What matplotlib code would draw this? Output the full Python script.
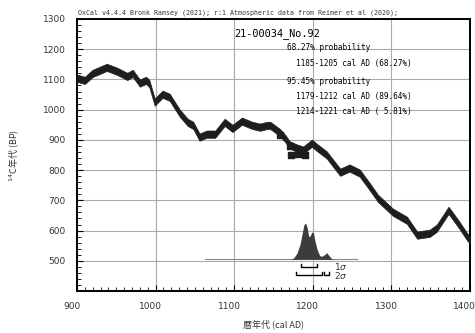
import matplotlib
matplotlib.use('Agg')
import matplotlib.pyplot as plt
import matplotlib.transforms as mtransforms
from matplotlib.ticker import MultipleLocator

# calibration curve (cal AD, 14C BP)
curve_year = [900, 910, 920, 938, 951, 964, 971, 980, 988, 992, 999, 1009, 1018,
              1031, 1041, 1048, 1056, 1065, 1076, 1088, 1098, 1110, 1123, 1133,
              1142, 1146, 1158, 1165, 1171, 1180, 1188, 1199, 1205, 1218, 1235,
              1247, 1260, 1273, 1283, 1302, 1320, 1333, 1349, 1358, 1373, 1387,
              1397, 1400]
curve_bp = [1104, 1097, 1120, 1140, 1127, 1110, 1120, 1088, 1097, 1087, 1025, 1051,
            1041, 988, 958, 948, 909, 919, 919, 958, 938, 962, 948, 942, 948, 948,
            925, 905, 883, 873, 866, 889, 876, 850, 793, 807, 790, 744, 707, 661,
            634, 585, 591, 608, 667, 617, 578, 570]
curve_err = 12

# measured date blobs on the curve
mark_year = [1158, 1171, 1182, 1172, 1181, 1190]
mark_bp = [915, 880, 859, 850, 852, 850]

# calibrated probability distribution
prob_base = 505
prob_year = [1172, 1176, 1180, 1184, 1187, 1189, 1191, 1193, 1195, 1197, 1199, 1201,
             1203, 1206, 1209, 1212, 1215, 1218, 1220, 1223, 1226]
prob_height = [0, 5, 20, 50, 90, 115, 120, 105, 75, 78, 90, 88, 60, 30, 12, 10, 15,
               22, 15, 5, 0]
base_range = [1063, 1256]

# sigma ranges
sig1_ranges = [(1185, 1205)]
sig2_ranges = [(1179, 1212), (1214, 1221)]

title = '21-00034_No.92'
info_lines = ['68.27% probability',
              '1185-1205 cal AD (68.27%)',
              '95.45% probability',
              '1179-1212 cal AD (89.64%)',
              '1214-1221 cal AD ( 5.81%)']
header = 'OxCal v4.4.4 Bronk Ramsey (2021); r:1 Atmospheric data from Reimer et al (2020);'

fig = plt.figure(figsize=(4.75, 3.33), dpi=100)
ax = fig.add_axes([0.162, 0.126, 0.827, 0.817])
ax.set_xlim(900, 1400)
ax.set_ylim(400, 1300)

ax.grid(True, which='major', color='#aaaaaa', lw=0.8)
ax.set_axisbelow(True)

lo = [b - curve_err for b in curve_bp]
hi = [b + curve_err for b in curve_bp]
ax.fill_between(curve_year, lo, hi, color='#1e1e1e', lw=0.5, zorder=3)
ax.scatter(mark_year, mark_bp, marker='s', s=20, color='#1e1e1e', zorder=4)

# distribution
ax.plot(base_range, [prob_base, prob_base], color='#888888', lw=0.8, zorder=3)
ax.fill_between(prob_year, prob_base, [prob_base + h for h in prob_height],
                color='#3c3c3c', lw=0, zorder=4)

# sigma brackets
def bracket(ranges, y, tick):
    for a, b in ranges:
        ax.plot([a, a, b, b], [y + tick, y, y, y + tick], color='black', lw=1.0, zorder=4)

bracket(sig1_ranges, 478, 12)
bracket(sig2_ranges, 452, 12)
ax.text(1227, 482, r'1$\sigma$', fontsize=6.5, va='center', color='#333333')
ax.text(1227, 450, r'2$\sigma$', fontsize=6.5, va='center', color='#333333')

# texts
ax.text(1100, 1253, title, family='DejaVu Sans Mono', fontsize=7.4, va='center')
ys = [1207, 1154, 1094, 1044, 995]
xs = [1167, 1179, 1167, 1179, 1179]
for x, y, s in zip(xs, ys, info_lines):
    ax.text(x, y, s, family='DejaVu Sans Mono', fontsize=5.6, va='center')
fig.text(78 / 475, 1 - 13 / 333, header, family='DejaVu Sans Mono', fontsize=4.8,
         va='center', color='#333333')

# axes styling
for sp in ax.spines.values():
    sp.set_linewidth(1.4)
ax.xaxis.set_major_locator(MultipleLocator(100))
ax.xaxis.set_minor_locator(MultipleLocator(10))
ax.yaxis.set_major_locator(MultipleLocator(100))
ax.yaxis.set_minor_locator(MultipleLocator(20))
ax.tick_params(which='both', direction='in', top=False, right=False)
ax.tick_params(which='major', length=4, width=0.8)
ax.tick_params(which='minor', length=3, width=0.6)
ax.tick_params(axis='both', labelsize=6.5, labelcolor='#333333', pad=8)
ax.set_yticks(range(500, 1301, 100))

# x tick labels sit a little left of their gridlines in the reference
shift = mtransforms.ScaledTranslation(-5 / 100, 0, fig.dpi_scale_trans)
for lab in ax.get_xticklabels():
    lab.set_transform(lab.get_transform() + shift)

cjk = ['Noto Sans CJK JP', 'DejaVu Sans']
ax.set_xlabel('暦年代 (cal AD)', family=cjk, fontsize=6.5, labelpad=6, color='#333333')
ax.set_ylabel('$^{14}$C年代 (BP)', family=cjk, fontsize=6.5, labelpad=16, color='#333333')

fig.savefig('out.png', dpi=100)
